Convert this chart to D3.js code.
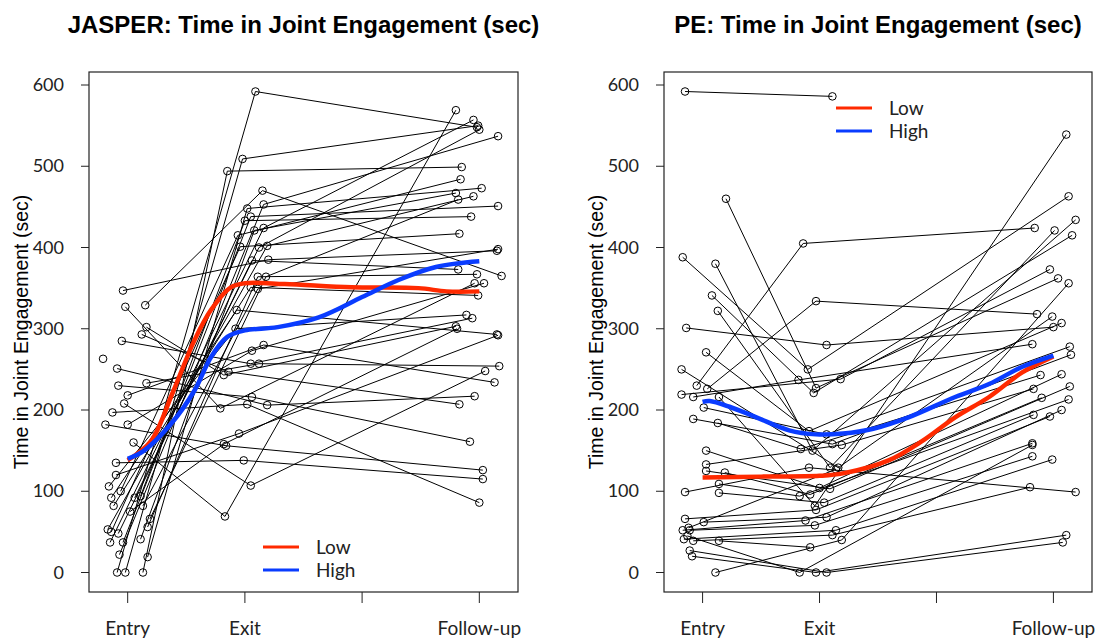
<!DOCTYPE html>
<html>
<head>
<meta charset="utf-8">
<script src="https://cdn.jsdelivr.net/npm/d3@7"></script>
<style>
  body { margin: 0; background: #fff; }
  svg { display: block; }
</style>
</head>
<body>
<div id="chart"></div>
<script>
// time points: 0 = Entry, 1 = Exit, 3 = Follow-up ; each point = [jitter, seconds]
const timeLabels = ["Entry", "Exit", "", "Follow-up"];
const timeTicks = [0, 1, 2, 3];
const yTicks = [0, 100, 200, 300, 400, 500, 600];

// JASPER subjects (one row per child, same order in each array)
const jasperEntry = [
  [-0.09, 0], [-0.02, 0], [0.13, 0], [-0.07, 22], [0.17, 19], [-0.04, 37], [-0.15, 37], [0.11, 41],
  [-0.17, 53], [-0.14, 50], [-0.08, 48], [0.17, 56], [0.19, 66], [-0.12, 82], [0.13, 82], [-0.14, 92],
  [0.11, 94], [-0.06, 100], [-0.16, 106], [-0.10, 135], [-0.19, 182], [0.0, 182], [-0.13, 197], [-0.03, 208],
  [0.0, 218], [-0.08, 230], [0.16, 233], [-0.09, 251], [-0.05, 285], [0.12, 293], [0.16, 302], [0.15, 329],
  [-0.02, 327], [-0.04, 347], [0.05, 160], [-0.21, 263], [-0.10, 120], [0.02, 75], [0.06, 92]
];
const jasperExit = [
  [0.09, 592], [-0.02, 509], [-0.15, 494], [0.16, 453], [0.02, 448], [0.05, 438], [0.16, 424], [0.08, 421],
  [0.19, 402], [-0.04, 401], [0.06, 384], [0.11, 364], [0.18, 364], [0.05, 351], [0.11, 349], [-0.07, 323],
  [0.0, 433], [-0.06, 415], [-0.08, 300], [-0.01, 138], [-0.16, 156], [0.06, 273], [0.02, 207], [0.05, 107],
  [0.16, 280], [0.06, 216], [0.12, 257], [0.19, 206], [0.05, 257], [-0.14, 247], [-0.18, 243], [0.15, 470],
  [-0.21, 202], [0.20, 385], [-0.17, 69], null, [-0.05, 171], [-0.18, 158], [0.12, 400]
];
const jasperFollow = [
  [-0.02, 548], [-0.01, 550], [-0.15, 499], [0.16, 537], [0.02, 473], [0.16, 451], [-0.05, 557], [-0.20, 467],
  [-0.05, 463], [-0.17, 417], [-0.18, 373], [-0.02, 367], [-0.18, 459], [-0.01, 341], [0.16, 398], [0.15, 293],
  [-0.07, 438], [-0.16, 484], [-0.11, 317], [0.03, 115], [0.03, 126], [0.04, 356], [0.0, 86], [0.05, 248],
  [0.13, 234], [-0.08, 161], [0.17, 254], [-0.04, 217], [-0.06, 313], [-0.17, 207], [-0.20, 303], [0.19, 365],
  [-0.04, 356], [0.15, 396], [-0.20, 569], null, [0.16, 292], [-0.19, 300], [0.0, 545]
];
// loess-type smooths by group, [time, seconds]
const jasperLow = [[0, 138], [0.2, 162], [0.38, 220], [0.57, 286], [0.71, 323], [0.88, 351], [1.0, 356],
  [1.34, 355], [1.91, 351], [2.48, 350], [2.72, 346], [3.0, 346]];
const jasperHigh = [[0, 140], [0.14, 150], [0.37, 183], [0.57, 224], [0.71, 265], [0.85, 290], [1.0, 298],
  [1.28, 302], [1.63, 314], [2.0, 339], [2.31, 360], [2.63, 376], [3.0, 383]];

// PE subjects
const peEntry = [
  [-0.15, 592], [0.20, 460], [-0.17, 388], [0.11, 380], [0.08, 341], [0.13, 322], [-0.14, 301], [0.03, 271],
  [-0.18, 250], [-0.05, 230], [0.04, 226], [-0.18, 219], [-0.08, 216], [0.14, 216], [0.01, 203], [-0.08, 189],
  [0.13, 184], [0.03, 150], [0.03, 133], [0.03, 125], [0.19, 123], [0.14, 109], [0.14, 98], [-0.15, 99],
  [-0.15, 66], [0.01, 62], [-0.17, 52], [-0.11, 52], [-0.16, 41], [-0.08, 39], [-0.09, 20], [-0.11, 27],
  [0.11, 0], [-0.13, 45], [0.14, 39], [-0.12, 55]
];
const peExit = [
  [0.11, 586], [-0.03, 227], [-0.10, 250], [-0.06, 150], [-0.05, 221], [0.09, 129], [0.06, 280], [-0.09, 174],
  [0.16, 129], [-0.14, 405], [-0.03, 334], [0.18, 238], [-0.18, 237], [-0.04, 82], [0.06, 170], [0.11, 158],
  [-0.16, 152], [0.0, 104], [0.19, 157], [0.09, 103], [-0.08, 96], [-0.17, 94], [0.04, 86], [-0.09, 129],
  [-0.03, 77], [0.06, 68], [-0.12, 64], [-0.04, 58], [0.14, 52], [0.11, 46], [-0.03, 0], [0.06, 0],
  [0.19, 40], [-0.17, 0], [-0.08, 31], [0.14, 127]
];
const peFollow = [
  null, [0.04, 362], [0.13, 463], [0.19, 434], [0.16, 415], [0.01, 421], [0.0, 302], [0.07, 307],
  [-0.01, 315], [-0.16, 424], [-0.14, 318], [-0.03, 373], [-0.18, 281], [0.11, 539], [0.14, 278], [0.15, 268],
  [-0.11, 243], [0.07, 244], [-0.17, 226], [0.14, 229], [-0.10, 215], [0.13, 213], [-0.17, 194], [0.19, 99],
  [-0.03, 192], [0.07, 200], [-0.18, 159], [-0.18, 143], [-0.01, 139], [-0.20, 105], [0.11, 46], [0.08, 37],
  [0.13, 356], [-0.18, 157], null, null
];
const peLow = [[0, 117], [0.5, 118], [1.0, 119], [1.2, 122], [1.59, 138], [1.88, 162], [2.16, 191],
  [2.45, 216], [2.73, 246], [3.0, 266]];
const peHigh = [[0, 210], [0.06, 211], [0.23, 204], [0.46, 191], [0.74, 175], [0.97, 170], [1.2, 171],
  [1.46, 177], [1.76, 191], [2.16, 216], [2.45, 232], [2.73, 253], [3.0, 267]];

const lowColor = "#ff2a00";
const highColor = "#0a3cff";
const tickFont = "Lato, 'DejaVu Sans', sans-serif";
const labelFont = "'Liberation Sans', Arial, sans-serif";

const svg = d3.select("#chart").append("svg")
  .attr("width", 1104).attr("height", 639);

function drawPanel(opt) {
  const x = d3.scaleLinear().domain([-0.33, 3.33]).range([opt.left, opt.right]);
  const y = d3.scaleLinear().domain([-24, 616]).range([592, 72]);
  const g = svg.append("g");

  // subjects
  const times = [0, 1, 3];
  const subjects = opt.entry.map((e, i) =>
    [e, opt.exit[i], opt.follow[i]]
      .map((p, k) => p ? { t: times[k] + p[0], v: p[1] } : null)
      .filter(p => p));

  const line = d3.line().x(d => x(d.t)).y(d => y(d.v));
  g.append("g").selectAll("path")
    .data(subjects.filter(s => s.length > 1))
    .join("path")
    .attr("d", line)
    .attr("fill", "none")
    .attr("stroke", "#000")
    .attr("stroke-width", 1);

  g.append("g").selectAll("circle")
    .data(subjects.flat())
    .join("circle")
    .attr("cx", d => x(d.t))
    .attr("cy", d => y(d.v))
    .attr("r", 3.8)
    .attr("fill", "none")
    .attr("stroke", "#000")
    .attr("stroke-width", 1);

  // group smooths
  const smooth = d3.line().x(d => x(d[0])).y(d => y(d[1])).curve(d3.curveCatmullRom);
  [[opt.low, lowColor], [opt.high, highColor]].forEach(([pts, col]) => {
    g.append("path")
      .attr("d", smooth(pts))
      .attr("fill", "none")
      .attr("stroke", col)
      .attr("stroke-width", 4.5)
      .attr("stroke-linecap", "butt");
  });

  // box
  g.append("rect")
    .attr("x", opt.left).attr("y", 72)
    .attr("width", opt.right - opt.left).attr("height", 520)
    .attr("fill", "none").attr("stroke", "#222").attr("stroke-width", 1.2);

  // y axis
  const yAxis = g.append("g");
  yAxis.selectAll("line").data(yTicks).join("line")
    .attr("x1", opt.left - 8).attr("x2", opt.left)
    .attr("y1", d => y(d)).attr("y2", d => y(d))
    .attr("stroke", "#222");
  yAxis.selectAll("text").data(yTicks).join("text")
    .attr("x", opt.left - 25).attr("y", d => y(d) + 6)
    .attr("text-anchor", "end")
    .style("font-family", tickFont).style("font-size", "18px").attr("fill", "#222")
    .text(d => d);

  // x axis
  const xAxis = g.append("g");
  xAxis.selectAll("line").data(timeTicks).join("line")
    .attr("x1", d => x(d)).attr("x2", d => x(d))
    .attr("y1", 592).attr("y2", 603)
    .attr("stroke", "#222");
  xAxis.selectAll("text").data(timeTicks).join("text")
    .attr("x", d => x(d)).attr("y", 635)
    .attr("text-anchor", "middle")
    .style("font-family", tickFont).style("font-size", "19px").attr("fill", "#222")
    .text(d => timeLabels[d]);

  // titles
  g.append("text")
    .attr("x", (opt.left + opt.right) / 2).attr("y", 33)
    .attr("text-anchor", "middle")
    .style("font-family", labelFont).style("font-size", "24px").style("font-weight", "bold")
    .text(opt.title);
  g.append("text")
    .attr("transform", `translate(${opt.left - 61},332) rotate(-90)`)
    .attr("text-anchor", "middle")
    .style("font-family", labelFont).style("font-size", "19.5px")
    .text("Time in Joint Engagement (sec)");

  // legend
  const leg = g.append("g").attr("transform", `translate(${opt.legend[0]},${opt.legend[1]})`);
  [["Low", lowColor], ["High", highColor]].forEach(([name, col], i) => {
    leg.append("line")
      .attr("x1", 0).attr("x2", 36)
      .attr("y1", i * 23).attr("y2", i * 23)
      .attr("stroke", col).attr("stroke-width", 3);
    leg.append("text")
      .attr("x", 53).attr("y", i * 23 + 7)
      .style("font-family", tickFont).style("font-size", "19px").attr("fill", "#222")
      .text(name);
  });
}

drawPanel({
  title: "JASPER: Time in Joint Engagement (sec)",
  left: 89, right: 518,
  entry: jasperEntry, exit: jasperExit, follow: jasperFollow,
  low: jasperLow, high: jasperHigh,
  legend: [263, 547]
});

drawPanel({
  title: "PE: Time in Joint Engagement (sec)",
  left: 664, right: 1092,
  entry: peEntry, exit: peExit, follow: peFollow,
  low: peLow, high: peHigh,
  legend: [836, 108]
});
</script>
</body>
</html>
